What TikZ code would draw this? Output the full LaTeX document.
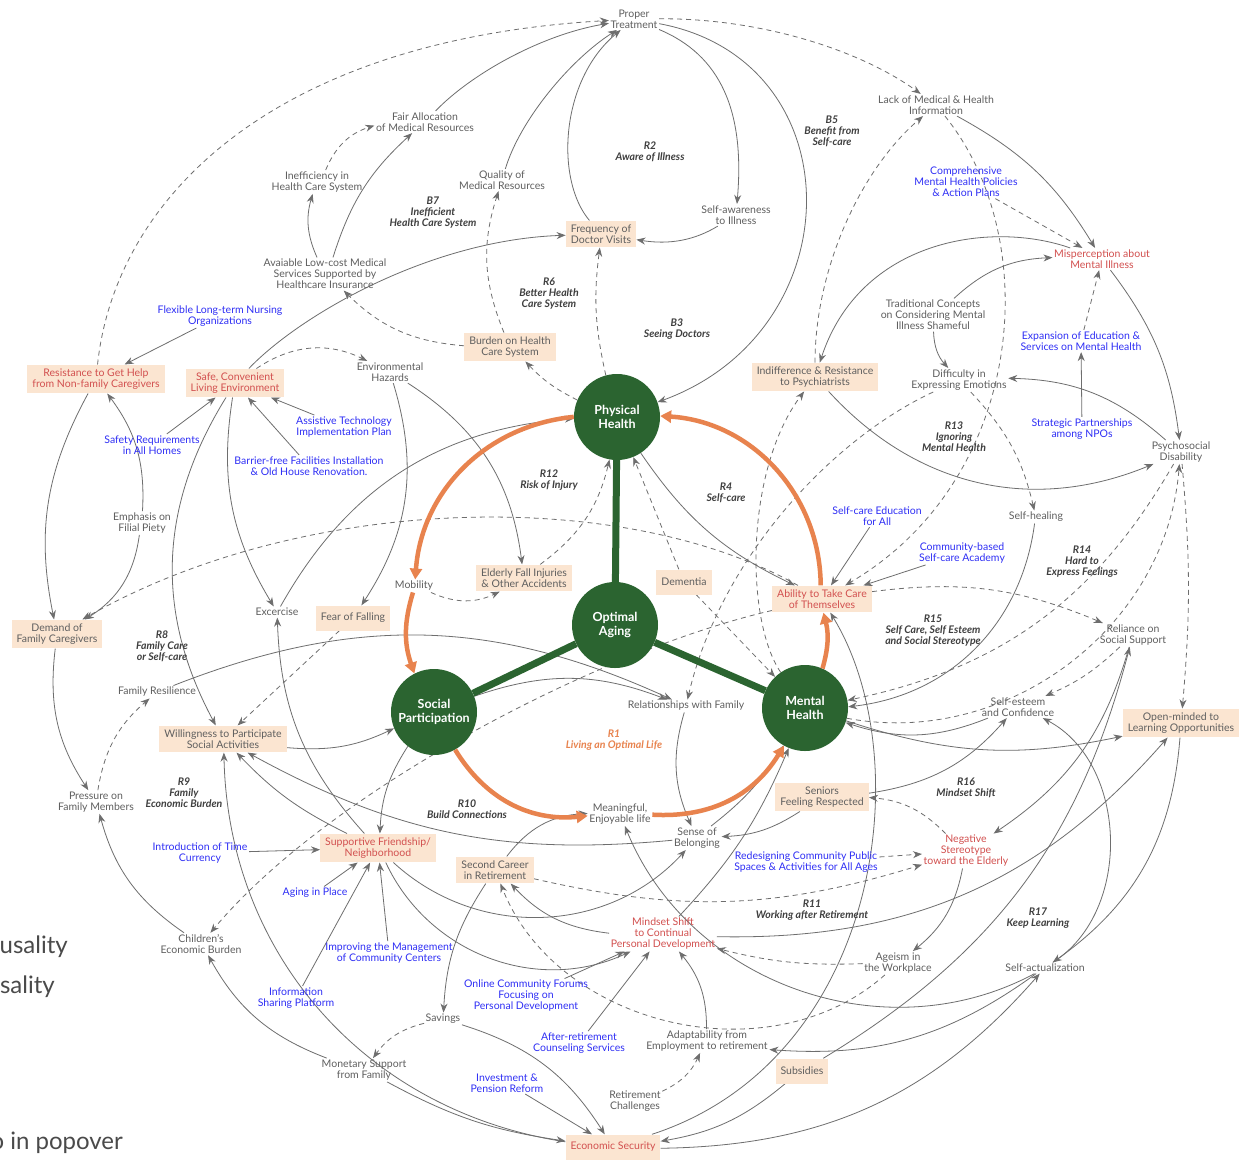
\documentclass[tikz,border=0pt]{standalone}
\usepackage{fontspec}
\setmainfont{Lato}
\usetikzlibrary{arrows.meta, backgrounds}
\definecolor{txtgray}{HTML}{5F5F5F}
\definecolor{lngray}{HTML}{6E6E6E}
\definecolor{boxfill}{HTML}{FBE5D1}
\definecolor{keyred}{HTML}{D2504F}
\definecolor{polblue}{HTML}{2F2FF5}
\definecolor{hubgreen}{HTML}{2B6430}
\definecolor{ringorange}{HTML}{E8834E}
\definecolor{loopgray}{HTML}{3F3F3F}
\definecolor{pagegray}{HTML}{4A4A4A}
\newcommand{\cldfont}{\fontsize{10.5}{11}\selectfont}
\tikzstyle{factor} = [align=center, text=txtgray, font=\cldfont, inner sep=1.5pt]
\tikzstyle{keyvar} = [factor, text=keyred]
\tikzstyle{policy} = [factor, text=polblue]
\tikzstyle{stockbox} = [rectangle, fill=boxfill, align=center, text=txtgray, font=\cldfont, inner xsep=5pt, inner ysep=4pt, minimum height=25pt]
\tikzstyle{keybox} = [stockbox, text=keyred]
\tikzstyle{looplabel} = [align=center, text=loopgray, font=\cldfont\bfseries\itshape]
\tikzstyle{hub} = [circle, fill=hubgreen, minimum size=86pt, inner sep=0pt, align=center, text=white, font=\fontsize{12.5}{14}\selectfont\bfseries]
\tikzstyle{fragment} = [anchor=east, inner sep=0pt, text=pagegray, font=\fontsize{24}{24}\selectfont]
\tikzstyle{arrow} = [draw=lngray, line width=0.8pt, -{Stealth[length=9pt,width=7pt]}]
\tikzstyle{dasharrow} = [arrow, dash pattern=on 5pt off 4pt]
\tikzstyle{ring} = [draw=ringorange, line width=4.5pt, -{Triangle[length=11pt,width=12pt]}]
\tikzstyle{spoke} = [draw=hubgreen, line width=7pt]

\begin{document}
\begin{tikzpicture}[x=1pt, y=1pt]
\useasboundingbox (0,0) rectangle (1249,-1160);

\node (proper) [factor] at (634,-19) {Proper\\Treatment};
\node (fair) [factor] at (425,-122) {Fair Allocation\\of Medical Resources};
\node (ineff) [factor] at (317,-182) {Inefficiency in\\Health Care System};
\node (quality) [factor] at (502,-180) {Quality of\\Medical Resources};
\node (freq) [stockbox] at (601,-234) {Frequency of\\Doctor Visits};
\node (selfaware) [factor] at (736,-215) {Self-awareness\\to Illness};
\node (lowcost) [factor] at (325,-274) {Avaiable Low-cost Medical\\Services Supported by\\Healthcare Insurance};
\node (flexible) [policy] at (220,-316) {Flexible Long-term Nursing\\Organizations};
\node (burden) [stockbox] at (510,-347) {Burden on Health\\Care System};
\node (resist) [keybox] at (96,-379) {Resistance to Get Help\\from Non-family Caregivers};
\node (safe) [keybox] at (235,-383) {Safe, Convenient\\Living Environment};
\node (envhaz) [factor] at (390,-372) {Environmental\\Hazards};
\node (lackinfo) [factor] at (936,-105) {Lack of Medical \& Health\\Information};
\node (compr) [policy] at (966,-182) {Comprehensive\\Mental Health Policies\\\& Action Plans};
\node (misperc) [keyvar] at (1102,-259) {Misperception about\\Mental Illness};
\node (tradit) [factor] at (933,-315) {Traditional Concepts\\on Considering Mental\\Illness Shameful};
\node (expan) [policy] at (1081,-341) {Expansion of Education \&\\Services on Mental Health};
\node (indiff) [stockbox] at (815,-377) {Indifference \& Resistance\\to Psychiatrists};
\node (difficulty) [factor] at (959,-380) {Difficulty in\\Expressing Emotions};
\node (strategic) [policy] at (1082,-429) {Strategic Partnerships\\among NPOs};
\node (psycho) [factor] at (1181,-452) {Psychosocial\\Disability};
\node (selfheal) [factor] at (1036,-517) {Self-healing};
\node (selfcareedu) [policy] at (877,-516) {Self-care Education\\for All};
\node (commacad) [policy] at (962,-553) {Community-based\\Self-care Academy};
\node (ability) [keybox] at (822,-599) {Ability to Take Care\\of Themselves};
\node (reliance) [factor] at (1133,-635) {Reliance on\\Social Support};
\node (selfesteem) [factor] at (1018,-707) {Self-esteem\\and Confidence};
\node (openmind) [stockbox] at (1181,-723) {Open-minded to\\Learning Opportunities};
\node (safety) [policy] at (152,-445) {Safety Requirements\\in All Homes};
\node (assistive) [policy] at (344,-427) {Assistive Technology\\Implementation Plan};
\node (barrier) [policy] at (309,-466) {Barrier-free Facilities Installation\\\& Old House Renovation.};
\node (emphasis) [factor] at (142,-523) {Emphasis on\\Filial Piety};
\node (physical) [hub] at (617,-417) {Physical\\Health};
\node (mobility) [factor] at (414,-586) {Mobility};
\node (fall) [stockbox] at (524,-578) {Elderly Fall Injuries\\\& Other Accidents};
\node (dementia) [stockbox] at (684,-582) {Dementia};
\node (optimal) [hub] at (615,-625) {Optimal\\Aging};
\node (excercise) [factor] at (277,-612) {Excercise};
\node (fearfall) [stockbox] at (353,-618) {Fear of Falling};
\node (demand) [stockbox] at (57,-634) {Demand of\\Family Caregivers};
\node (familyres) [factor] at (157,-692) {Family Resilience};
\node (willing) [stockbox] at (223,-739) {Willingness to Participate\\Social Activities};
\node (social) [hub] at (434,-712) {Social\\Participation};
\node (relfam) [factor] at (686,-706) {Relationships with Family};
\node (mental) [hub] at (805,-708) {Mental\\Health};
\node (pressure) [factor] at (96,-802) {Pressure on\\Family Members};
\node (meaningful) [factor] at (620,-814) {Meaningful,\\Enjoyable life};
\node (belong) [factor] at (697,-838) {Sense of\\Belonging};
\node (seniors) [stockbox] at (822,-797) {Seniors\\Feeling Respected};
\node (supportive) [keybox] at (378,-848) {Supportive Friendship/\\Neighborhood};
\node (timecurr) [policy] at (200,-853) {Introduction of Time\\Currency};
\node (career) [stockbox] at (495,-870) {Second Career\\in Retirement};
\node (redesign) [policy] at (806,-862) {Redesigning Community Public\\Spaces \& Activities for All Ages};
\node (negative) [keyvar] at (966,-851) {Negative\\Stereotype\\toward the Elderly};
\node (aginginplace) [policy] at (315,-893) {Aging in Place};
\node (mindset) [keyvar] at (663,-934) {Mindset Shift\\to Continual\\Personal Development};
\node (children) [factor] at (201,-944) {Children's\\Economic Burden};
\node (improving) [policy] at (389,-953) {Improving the Management\\of Community Centers};
\node (ageism) [factor] at (898,-963) {Ageism in\\the Workplace};
\node (selfact) [factor] at (1045,-968) {Self-actualization};
\node (online) [policy] at (526,-996) {Online Community Forums\\Focusing on\\Personal Development};
\node (infoshare) [policy] at (296,-998) {Information\\Sharing Platform};
\node (savings) [factor] at (443,-1019) {Savings};
\node (afterret) [policy] at (579,-1043) {After-retirement\\Counseling Services};
\node (adapt) [factor] at (707,-1041) {Adaptability from\\Employment to retirement};
\node (monetary) [factor] at (364,-1070) {Monetary Support\\from Family};
\node (subsidies) [stockbox] at (802,-1071) {Subsidies};
\node (investment) [policy] at (507,-1083) {Investment \&\\Pension Reform};
\node (retch) [factor] at (635,-1101) {Retirement\\Challenges};
\node (econsec) [keybox] at (613,-1147) {Economic Security};

\node (r2) [looplabel] at (650,-152) {R2\\Aware of Illness};
\node (b5) [looplabel] at (832,-131) {B5\\Benefit from\\Self-care};
\node (b7) [looplabel] at (433,-213) {B7\\Inefficient\\Health Care System};
\node (r6) [looplabel] at (549,-294) {R6\\Better Health\\Care System};
\node (b3) [looplabel] at (677,-329) {B3\\Seeing Doctors};
\node (r13) [looplabel] at (954,-437) {R13\\Ignoring\\Mental Health};
\node (r12) [looplabel] at (549,-480) {R12\\Risk of Injury};
\node (r4) [looplabel] at (726,-493) {R4\\Self-care};
\node (r14) [looplabel] at (1082,-562) {R14\\Hard to\\Express Feelings};
\node (r15) [looplabel] at (933,-631) {R15\\Self Care, Self Esteem\\and Social Stereotype};
\node (r8) [looplabel] at (162,-646) {R8\\Family Care\\or Self-care};
\node (r1) [looplabel, text=ringorange] at (614,-740) {R1\\Living an Optimal Life};
\node (r9) [looplabel] at (184,-793) {R9\\Family\\Economic Burden};
\node (r10) [looplabel] at (467,-809) {R10\\Build Connections};
\node (r16) [looplabel] at (966,-788) {R16\\Mindset Shift};
\node (r11) [looplabel] at (812,-910) {R11\\Working after Retirement};
\node (r17) [looplabel] at (1038,-918) {R17\\Keep Learning};

\node (frag1) [fragment] at (68,-947) {usality};
\node (frag2) [fragment] at (55,-987) {sality};
\node (frag3) [fragment] at (123,-1143) {o in popover};

\begin{scope}[on background layer]
\fill [white] (0,0) rectangle (1249,-1160);

\draw [arrow] (fair) .. controls (470,-75) and (540,-35) .. (proper);
\draw [arrow] (quality) .. controls (520,-120) and (570,-60) .. (proper);
\draw [arrow] (freq) .. controls (555,-180) and (560,-80) .. (proper);
\draw [arrow] (proper) .. controls (720,-55) and (745,-110) .. (selfaware);
\draw [arrow] (selfaware) .. controls (695,-240) and (670,-245) .. (freq);
\draw [arrow] (proper) .. controls (855,-60) and (855,-330) .. (physical);
\draw [dasharrow] (resist) .. controls (115,-200) and (270,-40) .. (proper);
\draw [dasharrow] (proper) .. controls (760,-18) and (860,-50) .. (lackinfo);
\draw [arrow] ([xshift=-8pt]lowcost.north) to[bend left=20] (ineff);
\draw [arrow] ([xshift=8pt]lowcost.north) to[bend left=15] (fair);
\draw [dasharrow] (ineff) to[bend left=25] (fair);
\draw [arrow] (safe) .. controls (300,-315) and (430,-240) .. (freq);
\draw [dasharrow] (burden) to[bend left=20] (quality);
\draw [dasharrow] (burden) to[bend left=20] (lowcost);
\draw [dasharrow] (physical) to[bend left=10] (burden);
\draw [dasharrow] (physical) to[bend left=10] (freq);
\draw [dasharrow] (safe) to[bend left=30] (envhaz);
\draw [arrow] (flexible) -- (resist);
\draw [arrow] (resist) to[bend right=20] (demand);
\draw [arrow] (emphasis) to[bend right=20] (resist);
\draw [arrow] (emphasis) to[bend left=25] (demand);
\draw [arrow] (safety) -- (safe);
\draw [arrow] (assistive) -- (safe);
\draw [arrow] (barrier) -- (safe);
\draw [arrow] (safe) to[bend right=20] (excercise);
\draw [arrow] (safe) to[bend right=30] (willing);
\draw [arrow] (envhaz) to[bend left=25] (fearfall);
\draw [arrow] (envhaz) to[bend left=25] (fall);
\draw [arrow] (excercise) to[bend left=28] (physical);

\draw [dasharrow] (mobility) to[bend right=25] (fall);
\draw [dasharrow] (fall) to[bend right=20] (physical);
\draw [dasharrow] (ability) .. controls (620,-485) and (300,-495) .. (demand);
\draw [arrow] (physical) to[bend right=15] (ability);
\draw [dasharrow] (dementia) -- (physical);
\draw [dasharrow] (dementia) -- (mental);
\draw [dasharrow] (mental) .. controls (745,-620) and (745,-470) .. (indiff);
\draw [dasharrow] (difficulty) .. controls (830,-440) and (720,-560) .. (relfam);
\draw [dasharrow] (ability) .. controls (600,-650) and (330,-790) .. (children);
\draw [dasharrow] (lackinfo) .. controls (1045,-240) and (1025,-480) .. (ability);
\draw [dasharrow] (indiff) .. controls (815,-270) and (860,-170) .. (lackinfo);
\draw [dasharrow] (compr) -- (misperc);
\draw [arrow] (lackinfo) to[bend left=15] (misperc);
\draw [arrow] (misperc) .. controls (990,-220) and (860,-240) .. (indiff);
\draw [arrow] (tradit) to[bend left=20] (misperc);
\draw [arrow] (tradit) to[bend right=20] (difficulty);
\draw [dasharrow] (expan) -- (misperc);
\draw [arrow] (strategic) -- (expan);
\draw [arrow] (psycho) to[bend right=20] (difficulty);
\draw [arrow] (misperc) to[bend left=15] (psycho);
\draw [arrow] (indiff) to[bend right=35] (psycho);
\draw [dasharrow] (difficulty) to[bend left=15] (selfheal);
\draw [arrow] (selfcareedu) -- (ability);
\draw [arrow] (commacad) -- (ability);
\draw [arrow] (selfheal) to[bend left=38] (mental);
\draw [dasharrow] (psycho) to[bend left=24] (mental);
\draw [dasharrow] (mental) to[bend right=48] (psycho);
\draw [dasharrow] (psycho) to[bend left=5] (openmind);
\draw [dasharrow] (ability) to[bend left=15] (reliance);
\draw [dasharrow] (reliance) to[bend left=10] (selfesteem);
\draw [arrow] (selfesteem) to[bend left=20] (mental);
\draw [arrow] (mental) to[bend right=15] (openmind);
\draw [arrow] (seniors) to[bend right=20] (selfesteem);
\draw [arrow] (subsidies) to[bend right=22] (reliance);
\draw [arrow] (reliance) to[bend left=20] (negative);
\draw [arrow] (selfact) to[bend right=60] (selfesteem);
\draw [arrow] (openmind) to[bend left=25] (selfact);
\draw [arrow] (mindset) to[bend right=25] (openmind);
\draw [arrow] (selfact) to[bend left=48] (meaningful);
\draw [arrow] (selfact) to[bend left=20] (adapt);
\draw [arrow] (econsec) to[bend right=24] (selfact);
\draw [arrow] (subsidies) to[bend left=15] (econsec);
\draw [arrow] (econsec) .. controls (880,-1060) and (920,-760) .. (ability);

\draw [dasharrow] (ageism) to[bend left=8] (mindset);
\draw [dasharrow] (ageism) to[bend left=55] (career);
\draw [arrow] (negative) to[bend left=20] (ageism);
\draw [dasharrow] (negative) to[bend right=20] (seniors);
\draw [dasharrow] (redesign) -- (negative);
\draw [dasharrow] (career) to[bend right=15] (negative);
\draw [dasharrow] (retch) to[bend right=20] (adapt);
\draw [arrow] (adapt) to[bend right=20] (mindset);
\draw [arrow] (afterret) -- (mindset);
\draw [arrow] (online) -- (mindset);
\draw [arrow] (mindset) to[bend left=20] (career);
\draw [arrow] (career) to[bend left=25] (meaningful);
\draw [arrow] (career) to[bend right=15] (savings);
\draw [dasharrow] (savings) to[bend right=20] (monetary);
\draw [arrow] (monetary) to[bend left=20] (children);
\draw [arrow] (children) to[bend left=20] (pressure);
\draw [arrow] (demand) to[bend right=20] (pressure);
\draw [dasharrow] (pressure) to[bend left=20] (familyres);
\draw [arrow] (monetary) to[bend right=10] (econsec);
\draw [arrow] (savings) to[bend left=20] (econsec);
\draw [arrow] (investment) -- (econsec);
\draw [arrow] (econsec) to[bend left=40] (willing);
\draw [arrow] (supportive) to[bend left=10] (willing);
\draw [arrow] (belong) to[bend left=17] (willing);
\draw [arrow] (supportive) to[bend left=20] (excercise);
\draw [arrow] (social) to[bend right=15] (supportive);
\draw [arrow] (timecurr) -- (supportive);
\draw [arrow] (aginginplace) -- (supportive);
\draw [arrow] (infoshare) -- (supportive);
\draw [arrow] (improving) -- (supportive);
\draw [arrow] (supportive) to[bend right=45] (belong);
\draw [arrow] (supportive) to[bend right=45] (mindset);
\draw [arrow] (familyres) to[bend left=23] (relfam);
\draw [arrow] (social) to[bend left=20] (relfam);
\draw [arrow] (relfam) to[bend right=20] (belong);
\draw [arrow] (seniors) to[bend left=15] (belong);
\draw [arrow] (belong) to[bend right=10] (mental);
\draw [arrow] (mindset) to[bend right=10] (mental);
\draw [arrow] (willing) to[bend right=15] (social);
\draw [dasharrow] (fearfall) -- (willing);

\draw [spoke] (optimal) -- (physical);
\draw [spoke] (optimal) -- (social);
\draw [spoke] (optimal) -- (mental);
\end{scope}

\draw [ring] (physical) to[bend right=40] (mobility);
\draw [ring] (mobility) to[bend right=18] (social);
\draw [ring] (social) to[bend right=32] (meaningful);
\draw [ring] (meaningful) to[bend right=31] (mental);
\draw [ring] (mental) to[bend right=15] (ability);
\draw [ring] (ability) to[bend right=43] (physical);
\end{tikzpicture}
\end{document}
